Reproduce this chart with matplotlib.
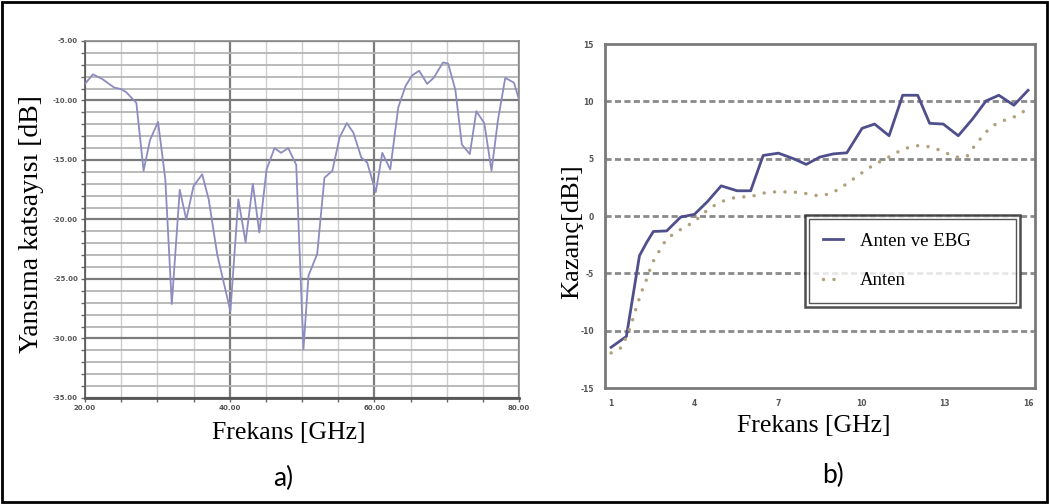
import numpy as np
import matplotlib
import matplotlib.pyplot as plt
from matplotlib.ticker import MultipleLocator, FormatStrFormatter
from matplotlib.patches import Rectangle

plt.rcParams['axes.unicode_minus'] = False

# a) reflection coefficient
freq_a = [20, 21.1, 22.4, 24.0, 25.0, 25.7, 27.1, 28.1, 29.0, 30.1, 31.1, 32.0, 33.1, 34.0,
          35.0, 36.2, 37.1, 38.3, 40.1, 41.2, 42.2, 43.2, 44.1, 45.1, 46.2, 47.1, 48.1, 49.2,
          50.2, 50.9, 52.1, 53.1, 54.2, 55.2, 56.2, 57.1, 58.2, 59.0, 60.2, 61.1, 62.2, 63.3,
          64.3, 65.2, 66.2, 67.3, 68.2, 69.5, 70.2, 71.2, 72.1, 73.2, 74.1, 75.2, 76.2, 77.1,
          78.1, 79.3, 80.0]
s11 = [-8.6, -7.8, -8.2, -8.9, -9.05, -9.3, -10.2, -15.9, -13.3, -11.8, -16.6, -27.1, -17.5, -20.0,
       -17.2, -16.2, -18.3, -23.0, -27.7, -18.3, -21.9, -17.0, -21.1, -15.8, -14.0, -14.4, -14.0, -15.4,
       -30.9, -24.7, -22.9, -16.5, -15.9, -13.1, -11.9, -12.7, -14.8, -15.2, -17.7, -14.4, -15.8, -10.6,
       -8.8, -7.9, -7.5, -8.6, -8.1, -6.8, -6.9, -9.1, -13.7, -14.5, -10.9, -11.9, -15.9, -11.6,
       -8.1, -8.5, -9.9]

# b) gain
freq_ebg = [1.0, 1.55, 2.02, 2.28, 2.52, 3.0, 3.5, 4.0, 4.46, 4.96, 5.53, 6.02, 6.47, 7.02, 7.56,
            8.02, 8.51, 9.0, 9.48, 10.03, 10.48, 11.0, 11.49, 12.03, 12.46, 12.95, 13.49, 14.0,
            14.49, 14.95, 15.49, 16.0]
gain_ebg = [-11.45, -10.5, -3.46, -2.3, -1.35, -1.3, -0.1, 0.15, 1.24, 2.63, 2.2, 2.2, 5.28, 5.48, 5.0,
            4.5, 5.14, 5.42, 5.51, 7.65, 8.02, 7.0, 10.53, 10.53, 8.08, 8.02, 7.0, 8.45,
            10.04, 10.53, 9.66, 10.96]
freq_ant = [1.0, 1.39, 1.69, 1.87, 2.08, 2.28, 2.48, 2.72, 2.97, 3.27, 3.64, 4.0, 4.25, 4.59, 4.96,
            5.29, 5.65, 6.02, 6.38, 6.78, 7.17, 7.53, 8.0, 8.45, 8.81, 9.18, 9.48, 9.85, 10.15,
            10.51, 10.88, 11.18, 11.55, 11.94, 12.34, 12.7, 13.07, 13.43, 13.8, 14.04, 14.31,
            14.59, 14.89, 15.26, 15.62, 16.0]
gain_ant = [-11.94, -11.45, -9.7, -8.28, -6.69, -5.5, -4.1, -3.1, -2.1, -1.5, -0.98, -0.49, 0.09, 0.75, 1.24,
            1.53, 1.67, 1.67, 1.96, 2.1, 2.1, 2.1, 1.96, 1.76, 1.9, 2.31, 2.83, 3.46, 3.98,
            4.56, 4.99, 5.42, 5.86, 6.14, 6.09, 5.86, 5.48, 5.13, 5.19, 6.0, 6.81,
            7.59, 8.1, 8.45, 8.74, 9.4]

W, H = 1049, 504
fig = plt.figure(figsize=(W / 100, H / 100), dpi=100)

def px(x, y):
    return x / W, 1 - y / H

serif = 'Liberation Serif'

# ---------- left panel ----------
ax1 = fig.add_axes([85 / W, 1 - 398 / H, 434 / W, 357 / H])
ax1.plot(freq_a, s11, color='#8c8cc0', lw=1.3, zorder=3)
ax1.set_xlim(20, 80)
ax1.set_ylim(-35, -5)
ax1.xaxis.set_major_locator(MultipleLocator(20))
ax1.xaxis.set_minor_locator(MultipleLocator(5))
ax1.yaxis.set_major_locator(MultipleLocator(5))
ax1.yaxis.set_minor_locator(MultipleLocator(1))
ax1.xaxis.set_major_formatter(FormatStrFormatter('%.2f'))
ax1.yaxis.set_major_formatter(FormatStrFormatter('%.2f'))
ax1.grid(which='major', color='#7c7c7c', lw=1.6)
ax1.grid(which='minor', axis='y', color='#b4b4b4', lw=1.3)
ax1.grid(which='minor', axis='x', color='#cdcdcf', lw=1.0)
ax1.set_axisbelow(True)
ax1.tick_params(which='both', direction='out', length=3, color='#666666', width=1)
ax1.tick_params(which='major', labelsize=5, labelcolor='#555555', pad=2)
for s in ax1.spines.values():
    s.set_color('#8a8a8a')
    s.set_linewidth(1.2)
ax1.spines['left'].set_color('#555555')
ax1.spines['bottom'].set_color('#555555')
ax1.spines['bottom'].set_linewidth(2)
for t in ax1.get_xticklabels() + ax1.get_yticklabels():
    t.set_fontweight('bold')

# ---------- right panel ----------
ax2 = fig.add_axes([605 / W, 1 - 388 / H, 430 / W, 344 / H])
ax2.plot(freq_ebg, gain_ebg, color='#4f4f8c', lw=2, label='Anten ve EBG', zorder=3)
ax2.plot(freq_ant, gain_ant, color='#b0a07c', lw=2.5, linestyle=(0, (0.01, 3.0)),
         dash_capstyle='round', label='Anten', zorder=3)
ax2.set_xlim(0.78, 16.25)
ax2.set_ylim(-15, 15)
ax2.set_xticks([1, 4, 7, 10, 13, 16])
ax2.set_yticks([-15, -10, -5, 0, 5, 10, 15])
for yv in [-10, -5, 0, 5, 10]:
    ax2.axhline(yv, color='#8a8a8a', lw=2, linestyle=(0, (2.2, 1.2)), zorder=1)
ax2.tick_params(length=0, labelsize=5.5, labelcolor='#555555')
ax2.tick_params(axis='x', pad=8)
ax2.tick_params(axis='y', pad=8)
for t in ax2.get_xticklabels() + ax2.get_yticklabels():
    t.set_fontweight('bold')
for s in ax2.spines.values():
    s.set_color('#7a7a7a')
    s.set_linewidth(2)

leg = ax2.legend(loc='lower left', bbox_to_anchor=(0.465, 0.2355, 0.5, 0.26), mode='expand',
                 prop={'family': serif, 'size': 13.5}, frameon=True, fancybox=False,
                 borderpad=0.95, labelspacing=1.2, handlelength=1.1, handletextpad=0.9,
                 borderaxespad=0)
leg.get_frame().set_edgecolor('#222222')
leg.get_frame().set_linewidth(1.8)
leg.set_zorder(5)

# axis labels
fig.text(*px(32, 224), 'Yansıma katsayısı [dB]', family=serif, fontsize=20,
         rotation=90, ha='center', va='center')
fig.text(*px(289, 433), 'Frekans [GHz]', family=serif, fontsize=18.5, ha='center', va='center')
fig.text(*px(572, 232), 'Kazanç[dBi]', family=serif, fontsize=19,
         rotation=90, ha='center', va='center')
fig.text(*px(814, 426), 'Frekans [GHz]', family=serif, fontsize=18.5, ha='center', va='center')
fig.text(*px(283, 478), 'a)', family='Lato', fontsize=19, ha='center', va='center')
fig.text(*px(833, 475), 'b)', family='Lato', fontsize=19, ha='center', va='center')

# outer frame
fig.patches.append(Rectangle((2 / W, 2 / H), 1 - 4 / W, 1 - 4 / H, transform=fig.transFigure,
                             fill=False, edgecolor='black', lw=2))

# inner line of the legend's double border
fig.canvas.draw()
bb = leg.get_frame().get_window_extent()
fig.patches.append(Rectangle((bb.x0 + 4, bb.y0 + 4), bb.width - 8, bb.height - 8, transform=None,
                             fill=False, edgecolor='#555555', lw=1, zorder=6))

fig.savefig('out.png', dpi=100)
